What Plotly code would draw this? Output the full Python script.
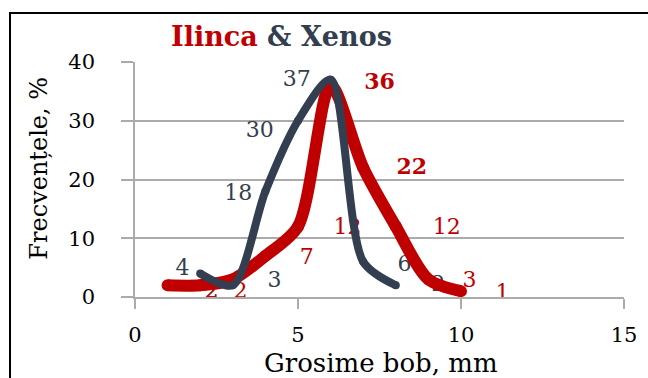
import plotly.graph_objects as go

# ---- data ----
ilinca_x = [1, 2, 3, 4, 5, 6, 7, 8, 9, 10]
ilinca_y = [2, 2, 3, 7, 12, 36, 22, 12, 3, 1]
xenos_x = [2, 3, 4, 5, 6, 7, 8]
xenos_y = [4, 2, 18, 30, 37, 6, 2]
x_ticks = [0, 5, 10, 15]
y_ticks = [0, 10, 20, 30, 40]

# ---- label offsets (style, in data units) ----
ilinca_dx = [1.35, 1.24, 1.28, 1.27, 1.52, 1.5, 1.49, 1.56, 1.26, 1.27]
ilinca_dy = [-1.3, -1.3, -0.4, -0.4, -0.4, 0.4, -0.2, -0.4, -0.4, -0.5]
ilinca_lbl_col = ["#C00000", "#C00000", "#333F50", "#C00000", "#C00000",
                  "#C00000", "#C00000", "#C00000", "#C00000", "#C00000"]
ilinca_bold = [False, False, False, False, False, True, True, False, False, False]
xenos_dx = [-0.54, -0.65, -0.83, -1.17, -1.04, 1.27, 1.3]
xenos_dy = [0.6, -1.3, -0.6, -1.9, -0.2, -0.6, 0.0]

RED = "#C00000"
DARK = "#333F50"
FONT = "DejaVu Serif"
GRID = "#ABABAB"

fig = go.Figure()

# data labels (drawn under the lines)
fig.add_trace(go.Scatter(
    x=[a + d for a, d in zip(xenos_x, xenos_dx)],
    y=[a + d for a, d in zip(xenos_y, xenos_dy)],
    text=[str(v) for v in xenos_y], mode="text",
    textfont=dict(family=FONT, size=22, color=DARK),
    textposition="middle center", hoverinfo="skip", showlegend=False))
fig.add_trace(go.Scatter(
    x=[a + d for a, d in zip(ilinca_x, ilinca_dx)],
    y=[a + d for a, d in zip(ilinca_y, ilinca_dy)],
    text=[("<b>%d</b>" % v) if b else str(v) for v, b in zip(ilinca_y, ilinca_bold)],
    mode="text",
    textfont=dict(family=FONT, size=22, color=ilinca_lbl_col),
    textposition="middle center", hoverinfo="skip", showlegend=False))

# lines
fig.add_trace(go.Scatter(
    x=ilinca_x, y=ilinca_y, mode="lines+markers", name="Ilinca",
    line=dict(color=RED, width=12, shape="spline", smoothing=0.8),
    marker=dict(color=RED, size=12), showlegend=False))
fig.add_trace(go.Scatter(
    x=xenos_x, y=xenos_y, mode="lines+markers", name="Xenos",
    line=dict(color=DARK, width=8, shape="spline", smoothing=0.8),
    marker=dict(color=DARK, size=8), showlegend=False))

fig.update_layout(
    width=648, height=378,
    margin=dict(l=135, r=24, t=62, b=81),
    paper_bgcolor="white", plot_bgcolor="white",
    font=dict(family=FONT, color="black"),
    xaxis=dict(range=[0, 15], tickvals=x_ticks, showgrid=False, zeroline=False,
               showline=True, linecolor=GRID, linewidth=1.5,
               ticks="outside", ticklen=10, tickcolor=GRID, tickwidth=1.5,
               tickfont=dict(family=FONT, size=21, color="black"),
               ticklabelstandoff=8),
    yaxis=dict(range=[0, 40], tickvals=y_ticks, showgrid=True, gridcolor=GRID,
               gridwidth=1.5, zeroline=False,
               showline=True, linecolor=GRID, linewidth=1.5,
               ticks="outside", ticklen=12, tickcolor=GRID, tickwidth=1.5,
               tickfont=dict(family=FONT, size=21, color="black"),
               ticklabelstandoff=22),
    annotations=[
        dict(text="<b><span style='color:%s'>Ilinca</span> &amp; Xenos</b>" % RED,
             xref="paper", yref="paper", x=0.3006, y=1.1106,
             xanchor="center", yanchor="middle", showarrow=False,
             font=dict(family=FONT, size=27, color=DARK)),
        dict(text="Grosime bob, mm", xref="paper", yref="paper", x=0.504, y=-0.28,
             xanchor="center", yanchor="middle", showarrow=False,
             font=dict(family=FONT, size=26, color="black")),
        dict(text="Frecvențele, %", xref="paper", yref="paper", x=-0.197, y=0.549,
             xanchor="center", yanchor="middle", showarrow=False, textangle=-90,
             font=dict(family=FONT, size=24, color="black")),
    ],
    shapes=[dict(type="rect", xref="paper", yref="paper",
                 x0=-0.2556, x1=1.06, y0=-0.45, y1=1.2085,
                 line=dict(color="black", width=2), layer="below")],
)

fig.write_html("out.html")
